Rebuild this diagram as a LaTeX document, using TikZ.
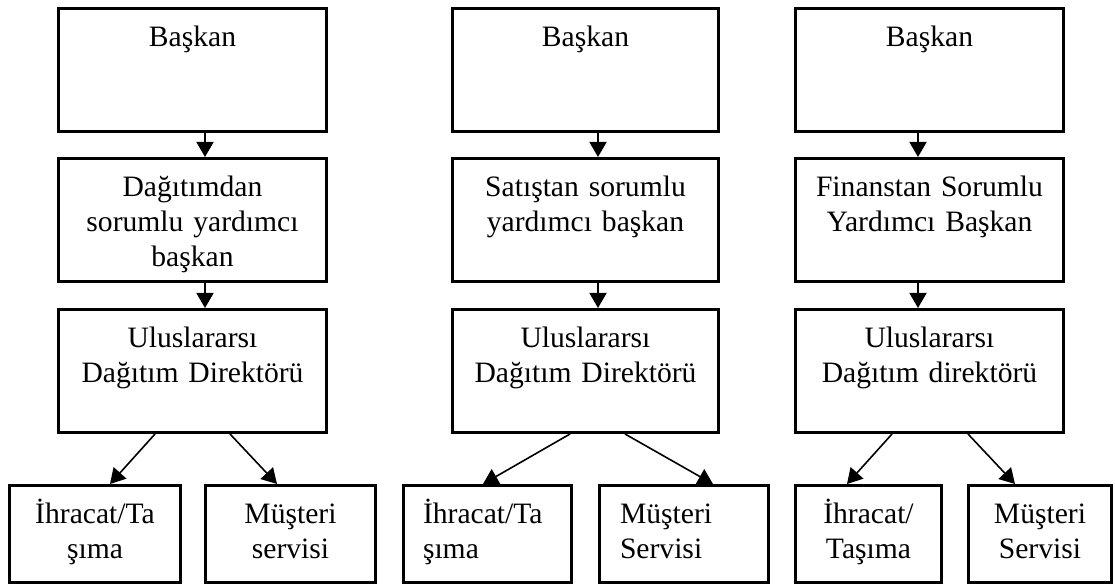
\documentclass[tikz,border=0pt]{standalone}
\usepackage{fontspec}
\setmainfont{Liberation Serif}
\usetikzlibrary{arrows.meta}
\tikzset{
  Kutu/.style={draw,line width=1.5pt,inner ysep=0pt,text height=19.25pt,
    font=\fontsize{14.8}{17.5}\selectfont},
  UstKutu/.style={Kutu,align=center,inner xsep=4pt,minimum width=134pt,
    text width=126pt,minimum height=61.5pt,text depth=42.25pt},
  AltKutu/.style={Kutu,align=center,inner xsep=9.75pt,minimum height=48.5pt,
    text depth=29.25pt},
  Ok/.style={line width=0.8pt,-{Triangle[length=7.5pt,width=8.5pt]}}
}

\begin{document}
\begin{tikzpicture}[x=0.5pt,y=-0.5pt]
\useasboundingbox (0,0) rectangle (1115,587);

\node[UstKutu] (b1) at (192.5,70) {Başkan};
\node[UstKutu] (y1) at (192.5,220) {Dağıtımdan\\sorumlu yardımcı\\başkan};
\node[UstKutu] (d1) at (192.5,371) {Uluslararsı\\Dağıtım Direktörü};
\node[AltKutu,minimum width=85.5pt,text width=66pt] (i1) at (95,534) {İhracat/Ta\\şıma};
\node[AltKutu,minimum width=85pt,text width=65.5pt] (m1) at (290.5,534) {Müşteri\\servisi};

\node[UstKutu,minimum width=133pt,text width=125pt] (b2) at (585.5,70) {Başkan};
\node[UstKutu,minimum width=133pt,text width=125pt] (y2) at (585.5,220) {Satıştan sorumlu\\yardımcı başkan};
\node[UstKutu,minimum width=133pt,text width=125pt] (d2) at (585.5,371) {Uluslararsı\\Dağıtım Direktörü};
\node[AltKutu,align=left,minimum width=84pt,text width=64.5pt] (i2) at (487.5,534) {İhracat/Ta\\şıma};
\node[AltKutu,align=left,minimum width=84.5pt,text width=64pt,inner xsep=10.25pt] (m2) at (684,534) {Müşteri\\Servisi};

\node[UstKutu] (b3) at (929.5,70) {Başkan};
\node[UstKutu] (y3) at (929.5,220) {Finanstan Sorumlu\\Yardımcı Başkan};
\node[UstKutu] (d3) at (929.5,371) {Uluslararsı\\Dağıtım direktörü};
\node[AltKutu,minimum width=73pt,text width=53.5pt] (i3) at (868.5,534) {İhracat/\\Taşıma};
\node[AltKutu,minimum width=71.5pt,text width=52pt] (m3) at (1040,534) {Müşteri\\Servisi};

\draw[Ok] ([xshift=6.25pt]b1.south) -- ([xshift=6.25pt]y1.north);
\draw[Ok] ([xshift=6.25pt]y1.south) -- ([xshift=6.25pt]d1.north);
\draw[Ok] ([xshift=-18.75pt]d1.south) -- ([xshift=7.5pt]i1.north);
\draw[Ok] ([xshift=18.75pt]d1.south) -- ([xshift=-6.75pt]m1.north);

\draw[Ok] ([xshift=6.25pt]b2.south) -- ([xshift=6.25pt]y2.north);
\draw[Ok] ([xshift=6.25pt]y2.south) -- ([xshift=6.25pt]d2.north);
\draw[Ok] ([xshift=-7.75pt]d2.south) -- ([xshift=-2.25pt]i2.north);
\draw[Ok] ([xshift=19.75pt]d2.south) -- ([xshift=14.5pt]m2.north);

\draw[Ok] ([xshift=-5.75pt]b3.south) -- ([xshift=-5.75pt]y3.north);
\draw[Ok] ([xshift=-5.75pt]y3.south) -- ([xshift=-5.75pt]d3.north);
\draw[Ok] ([xshift=-18.75pt]d3.south) -- ([xshift=-10.75pt]i3.north);
\draw[Ok] ([xshift=19.25pt]d3.south) -- ([xshift=-12.5pt]m3.north);
\end{tikzpicture}
\end{document}
